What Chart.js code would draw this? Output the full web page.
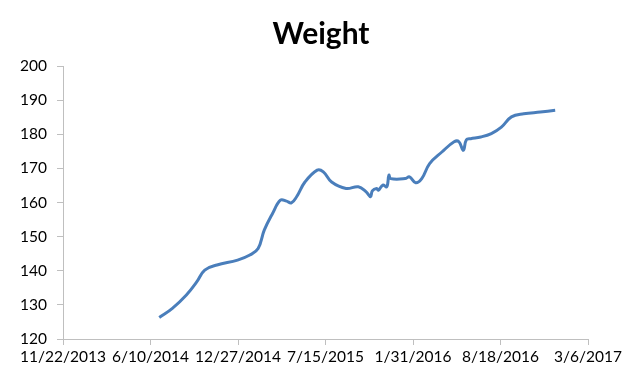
<!DOCTYPE html>
<html>
<head>
<meta charset="utf-8">
<script src="https://cdn.jsdelivr.net/npm/chart.js@4.4.1/dist/chart.umd.min.js"></script>
<style>
  html, body { margin: 0; padding: 0; background: #ffffff; }
  #wrap { width: 640px; height: 383px; }
</style>
</head>
<body>
<div id="wrap"><canvas id="c" width="640" height="383"></canvas></div>
<script>
const chartTitle = "Weight";
const baseDate = "2013-11-22";
const dates = [
  "2014-06-30","2014-07-30","2014-08-31","2014-09-24","2014-10-12","2014-11-09",
  "2014-12-26","2015-01-23","2015-02-11","2015-02-25","2015-03-16","2015-04-03",
  "2015-04-17","2015-04-28","2015-05-10","2015-05-29","2015-06-26","2015-07-10",
  "2015-07-29","2015-08-31","2015-09-28","2015-10-16","2015-10-26","2015-10-30",
  "2015-11-09","2015-11-13","2015-11-23","2015-12-02","2015-12-07","2015-12-11",
  "2016-01-13","2016-01-23","2016-02-06","2016-02-20","2016-03-09","2016-04-06",
  "2016-05-04","2016-05-15","2016-05-25","2016-06-01","2016-06-11","2016-07-04",
  "2016-07-28","2016-08-20","2016-09-12","2016-10-10","2016-11-17","2016-12-21"
];
const weights = [
  126.3,129.0,132.9,136.8,140.2,141.7,
  143.1,144.6,146.5,151.9,156.8,160.7,
  160.4,159.9,161.7,166.0,169.5,169.0,
  166.0,164.1,164.6,163.1,161.7,163.4,
  164.1,163.6,165.1,164.6,168.0,167.0,
  167.0,167.5,165.8,167.0,171.4,174.8,
  177.8,177.8,175.3,178.4,178.7,179.2,
  180.2,182.1,185.1,186.0,186.5,187.0
];
const xTickDays = [0, 200, 400, 600, 800, 1000, 1200];
const yMin = 120, yMax = 200, yStep = 10;

const DAY = 86400000;
function parseISO(s) { const p = s.split("-").map(Number); return Date.UTC(p[0], p[1]-1, p[2]); }
const base = parseISO(baseDate);
const points = dates.map((d, i) => ({ x: (parseISO(d) - base) / DAY, y: weights[i] }));
function fmt(day) {
  const d = new Date(base + day * DAY);
  return (d.getUTCMonth()+1) + "/" + d.getUTCDate() + "/" + d.getUTCFullYear();
}

const FONT = "Lato, 'Open Sans', sans-serif";

const titlePlugin = {
  id: "centerTitle",
  afterDraw(chart) {
    const ctx = chart.ctx;
    ctx.save();
    ctx.font = "bold 30px " + FONT;
    ctx.fillStyle = "#000000";
    ctx.textAlign = "center";
    ctx.textBaseline = "alphabetic";
    ctx.fillText(chartTitle, chart.width / 2 + 1, 44);
    ctx.restore();
  }
};

new Chart(document.getElementById("c"), {
  type: "line",
  data: {
    datasets: [{
      data: points,
      borderColor: "#4a7ebb",
      borderWidth: 3,
      pointRadius: 0,
      fill: false,
      tension: 0.4,
      cubicInterpolationMode: "default"
    }]
  },
  plugins: [titlePlugin],
  options: {
    responsive: false,
    animation: false,
    layout: { padding: { left: 0, right: 52, top: 66, bottom: 0 } },
    plugins: {
      legend: { display: false },
      tooltip: { enabled: false },
      title: { display: false }
    },
    scales: {
      x: {
        type: "linear",
        min: xTickDays[0],
        max: xTickDays[xTickDays.length - 1],
        afterBuildTicks: (axis) => { axis.ticks = xTickDays.map(v => ({ value: v })); },
        afterFit: (axis) => { axis.height = 44; },
        grid: { display: true, drawOnChartArea: false, drawTicks: true, tickLength: 6, color: "#bfbfbf" },
        border: { display: true, color: "#bfbfbf", width: 1 },
        ticks: {
          callback: (v) => fmt(v),
          color: "#000000",
          font: { family: FONT, size: 15.5 },
          padding: 3,
          maxRotation: 0,
          autoSkip: false
        }
      },
      y: {
        min: yMin,
        max: yMax,
        afterFit: (axis) => { axis.width = 63; },
        grid: { display: true, drawOnChartArea: false, drawTicks: true, tickLength: 6, color: "#bfbfbf" },
        border: { display: true, color: "#bfbfbf", width: 1 },
        ticks: {
          stepSize: yStep,
          color: "#000000",
          font: { family: FONT, size: 15.5 },
          padding: 10
        }
      }
    }
  }
});
</script>
</body>
</html>
